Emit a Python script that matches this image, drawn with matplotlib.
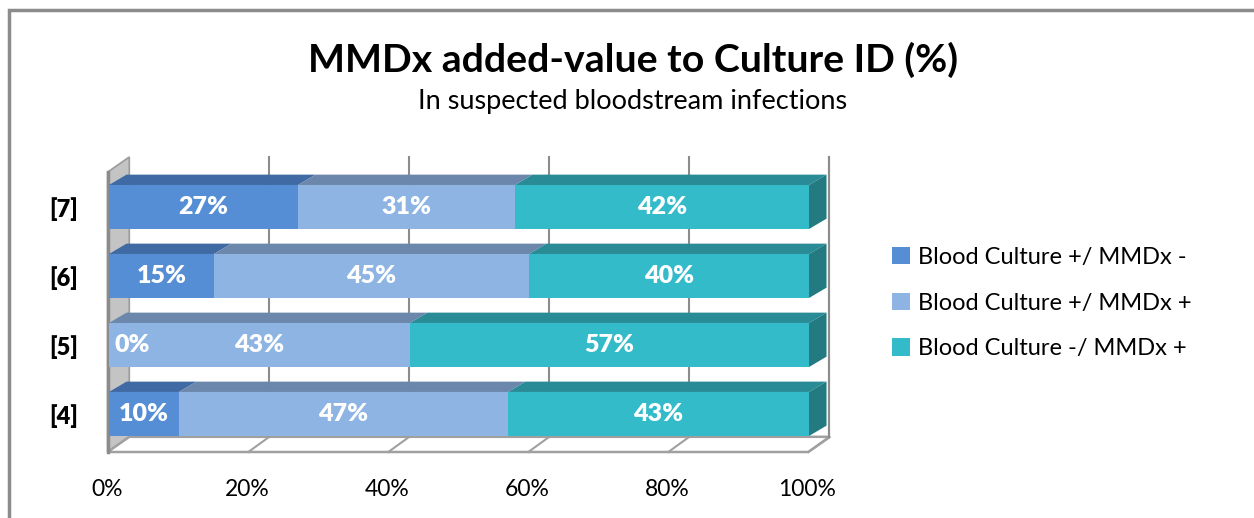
import matplotlib.pyplot as plt
from matplotlib.patches import Polygon, Rectangle, Patch

# Data
studies = ['[4]', '[5]', '[6]', '[7]']
bc_pos_mmdx_neg = [10, 0, 15, 27]
bc_pos_mmdx_pos = [47, 43, 45, 31]
bc_neg_mmdx_pos = [43, 57, 40, 42]
series_names = ['Blood Culture +/ MMDx -', 'Blood Culture +/ MMDx +', 'Blood Culture -/ MMDx +']
x_ticks = [0, 20, 40, 60, 80, 100]

# colours: front, top, side
front_cols = ['#558ed5', '#8db4e2', '#33bbc9']
top_cols = ['#3f6aa3', '#6b87ab', '#298b95']
side_col = '#237a80'

plt.rcParams['font.family'] = ['Lato', 'DejaVu Sans']

W, H = 1254, 518
fig = plt.figure(figsize=(W / 100, H / 100), dpi=100)
ax = fig.add_axes([95 / W, (H - 460) / H, 750 / W, 310 / H])
ax.set_xlim(-2, 105.14)
ax.set_ylim(-0.667, 3.826)

bar_h = 0.638
dx, dy = 2.5, 0.15          # depth of the bars
wdx, wdy = 3.1, 0.22        # depth of walls/floor
floor_front, floor_back = -0.551, -0.551 + wdy
wall_top = 3.725

# left wall
ax.add_patch(Polygon([(-0.2, floor_front), (-0.2, wall_top - wdy), (-0.2 + wdx, wall_top),
                      (-0.2 + wdx, floor_back)], closed=True, facecolor='#c4c4c4',
                     edgecolor='#9a9a9a', lw=1.2, zorder=1))
ax.plot([-0.2, -0.2], [floor_front, wall_top - wdy], color='#8c8c8c', lw=2.5, zorder=1.1)

# floor
ax.add_patch(Polygon([(-0.2, floor_front), (99.9, floor_front), (99.9 + wdx, floor_back),
                      (-0.2 + wdx, floor_back)], closed=True, facecolor='white',
                     edgecolor='#a0a0a0', lw=1.8, zorder=1))

# back wall gridlines + floor lines
for v in x_ticks[1:]:
    ax.plot([v + 2.9, v + 2.9], [floor_back, wall_top], color='#8c8c8c', lw=1.5, zorder=1.2)
    ax.plot([v - 0.1, v + 2.9], [floor_front, floor_back], color='#a0a0a0', lw=1.5, zorder=1.2)

# stacked 3D bars
series = [bc_pos_mmdx_neg, bc_pos_mmdx_pos, bc_neg_mmdx_pos]
for i in range(len(studies)):
    left = 0
    for s, vals in enumerate(series):
        w = vals[i]
        ax.barh(i, w, left=left, height=bar_h, color=front_cols[s], zorder=3)
        top = i + bar_h / 2
        if w > 0:
            ax.add_patch(Polygon([(left, top), (left + dx, top + dy), (left + w + dx, top + dy),
                                  (left + w, top)], closed=True, facecolor=top_cols[s],
                                 edgecolor='none', zorder=3))
        # label
        if w == 0:
            ax.text(left + 0.8, i, f'{w}%', ha='left', va='center', color='white',
                    fontsize=18, fontweight='heavy', zorder=5)
        else:
            ax.text(left + w / 2, i, f'{w}%', ha='center', va='center', color='white',
                    fontsize=18, fontweight='heavy', zorder=5)
        left += w
    ax.add_patch(Polygon([(left, i - bar_h / 2), (left, i + bar_h / 2),
                          (left + dx, i + bar_h / 2 + dy), (left + dx, i - bar_h / 2 + dy)],
                         closed=True, facecolor=side_col, edgecolor='none', zorder=3))

# right edge of the back wall
ax.plot([100 + 2.9, 100 + 2.9], [floor_back, wall_top], color='#8c8c8c', lw=1.5, zorder=1.2)

for sp in ax.spines.values():
    sp.set_visible(False)
ax.set_xticks([v - 0.3 for v in x_ticks])
ax.set_xticklabels([f'{v}%' for v in x_ticks], fontsize=16.5)
ax.set_yticks(range(len(studies)))
ax.set_yticklabels(studies, fontsize=17, fontweight='heavy')
ax.tick_params(length=0, axis='x', pad=14)
ax.tick_params(length=0, axis='y', pad=12)

fig.text(633 / W, 1 - 60 / H, 'MMDx added-value to Culture ID (%)', ha='center', va='center',
         fontsize=28.3, fontweight='bold')
fig.text(633 / W, 1 - 102 / H, 'In suspected bloodstream infections', ha='center', va='center',
         fontsize=19.5)

handles = [Patch(facecolor=c) for c in front_cols]
fig.legend(handles, series_names, loc='center left', bbox_to_anchor=(871 / W, 1 - 303 / H),
           frameon=False, fontsize=17, handlelength=0.75, handleheight=0.75,
           handletextpad=0.35, labelspacing=1.05)

fig.add_artist(Rectangle((9 / W, -0.1), 1.2, 1.1 - 10 / H, transform=fig.transFigure,
                         fill=False, edgecolor='#8c8c8c', lw=2.5))

fig.savefig('out.png', dpi=100)
